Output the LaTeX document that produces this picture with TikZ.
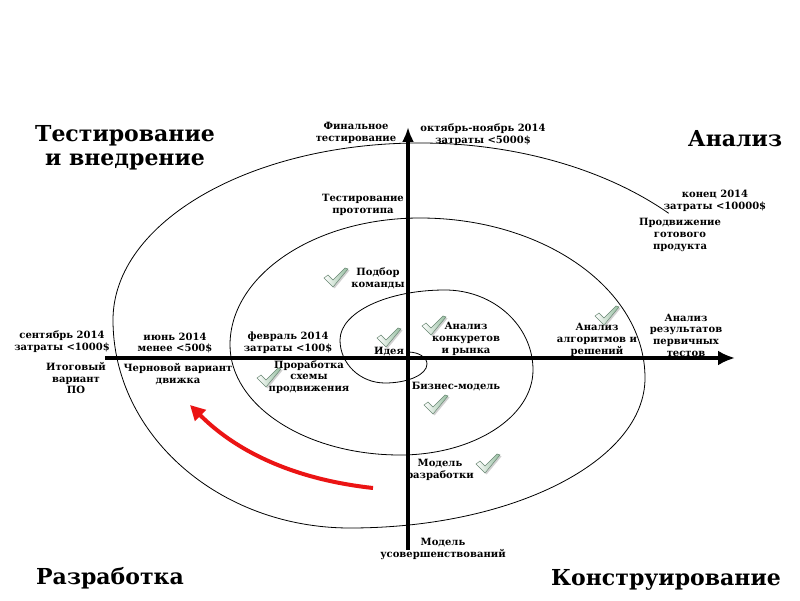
\documentclass[tikz,border=0pt]{standalone}
\usepackage{fontspec}
\setmainfont{DejaVu Serif}
\usetikzlibrary{arrows.meta}
\definecolor{chkfill}{RGB}{150,190,160}
\definecolor{chkline}{RGB}{105,135,115}
\definecolor{arrred}{RGB}{235,20,20}
\begin{document}
\begin{tikzpicture}[x=1pt,y=1pt,
  lbl/.style={font=\bfseries\fontsize{10}{11.7}\selectfont, align=center, inner sep=0pt},
  ttl/.style={font=\bfseries\fontsize{22}{24}\selectfont, align=center, inner sep=0pt},
  axisline/.style={line width=4.5pt, -{Latex[length=17pt,width=15pt]}},
  spiral/.style={line width=0.8pt},
  redarrow/.style={draw=arrred, line width=4pt, -{Triangle[length=15pt,width=15pt]}},
  chk/.pic={
    \fill[black!30, opacity=0.6, shift={(1.5,-1.5)}] (-11,0) -- (-7,3) -- (-2,-2) -- (10,10) -- (13,9) -- (-2,-9) -- cycle;
    \shade[left color=white, right color=chkfill, draw=chkline, line width=0.5pt] (-11,0) -- (-7,3) -- (-2,-2) -- (10,10) -- (13,9) -- (-2,-9) -- cycle;
  }
]
\fill[white] (0,0) rectangle (800,600);
\useasboundingbox (0,0) rectangle (800,600);

% spiral
\draw[spiral] (408,248)
  arc[start angle=90, end angle=0, x radius=19pt, y radius=12pt]
  arc[start angle=0, end angle=-90, x radius=42pt, y radius=19pt]
  arc[start angle=-90, end angle=-180, x radius=45pt, y radius=43pt]
  arc[start angle=180, end angle=90, x radius=105pt, y radius=50pt]
  arc[start angle=90, end angle=0, x radius=88pt, y radius=80pt]
  arc[start angle=0, end angle=-90, x radius=133pt, y radius=85pt]
  arc[start angle=-90, end angle=-180, x radius=170pt, y radius=110pt]
  arc[start angle=180, end angle=90, x radius=190pt, y radius=127pt]
  arc[start angle=90, end angle=0, x radius=225pt, y radius=160pt]
  arc[start angle=0, end angle=-90, x radius=295pt, y radius=150pt]
  arc[start angle=-90, end angle=-180, x radius=237pt, y radius=208pt]
  arc[start angle=180, end angle=90, x radius=307pt, y radius=177pt]
  arc[start angle=90, end angle=43, x radius=340pt, y radius=221pt];

% axes
\coordinate (hl) at (105,242);
\coordinate (hr) at (735,242);
\coordinate (vb) at (408,50);
\coordinate (vt) at (408,473);
\draw[axisline] (hl) -- (hr);
\draw[line width=4.5pt, -{Latex[length=15pt,width=12pt]}] (vb) -- (vt);

% titles
\node[ttl] (tTest) at (125,452) {Тестирование\\и внедрение};
\node[ttl] (tAnal) at (735,461) {Анализ};
\node[ttl] (tRazr) at (110,22) {Разработка};
\node[ttl] (tKons) at (666,20) {Конструирование};

% labels
\node[lbl] (fin) at (356,467) {Финальное\\тестирование};
\node[lbl] (okt) at (483,465) {октябрь-ноябрь 2014\\затраты <5000\$};
\node[lbl] (tproto) at (363,395) {Тестирование\\прототипа};
\node[lbl] (konec) at (715,399) {конец 2014\\затраты <10000\$};
\node[lbl] (prod) at (680,365) {Продвижение\\готового\\продукта};
\node[lbl] (podbor) at (378,322) {Подбор\\команды};
\node[lbl] (sen) at (62,258) {сентябрь 2014\\затраты <1000\$};
\node[lbl] (itog) at (76,222) {Итоговый\\вариант\\ПО};
\node[lbl] (iun) at (175,257) {июнь 2014\\менее <500\$};
\node[lbl] (chern) at (178,226) {Черновой вариант\\движка};
\node[lbl] (fev) at (288,257) {февраль 2014\\затраты <100\$};
\node[lbl] (ideya) at (389,248) {Идея};
\node[lbl] (prorab) at (309,223) {Проработка\\схемы\\продвижения};
\node[lbl] (an1) at (466,261) {Анализ\\конкуретов\\и рынка};
\node[lbl] (biz) at (456,213) {Бизнес-модель};
\node[lbl] (an2) at (597,260) {Анализ\\алгоритмов и\\решений};
\node[lbl] (an3) at (686,265) {Анализ\\результатов\\первичных\\тестов};
\node[lbl] (mr) at (440,130) {Модель\\разработки};
\node[lbl] (mu) at (443,51) {Модель\\усовершенствований};

% check marks
\pic at (335,322) {chk};
\pic at (388,262) {chk};
\pic at (433,274) {chk};
\pic at (606,284) {chk};
\pic at (268,222) {chk};
\pic at (435,195) {chk};
\pic at (487,136) {chk};

% red arrow
\coordinate (rs) at (373,112);
\coordinate (re) at (190,195);
\draw[redarrow] (rs) .. controls (300,120) and (240,145) .. (re);
\end{tikzpicture}
\end{document}
